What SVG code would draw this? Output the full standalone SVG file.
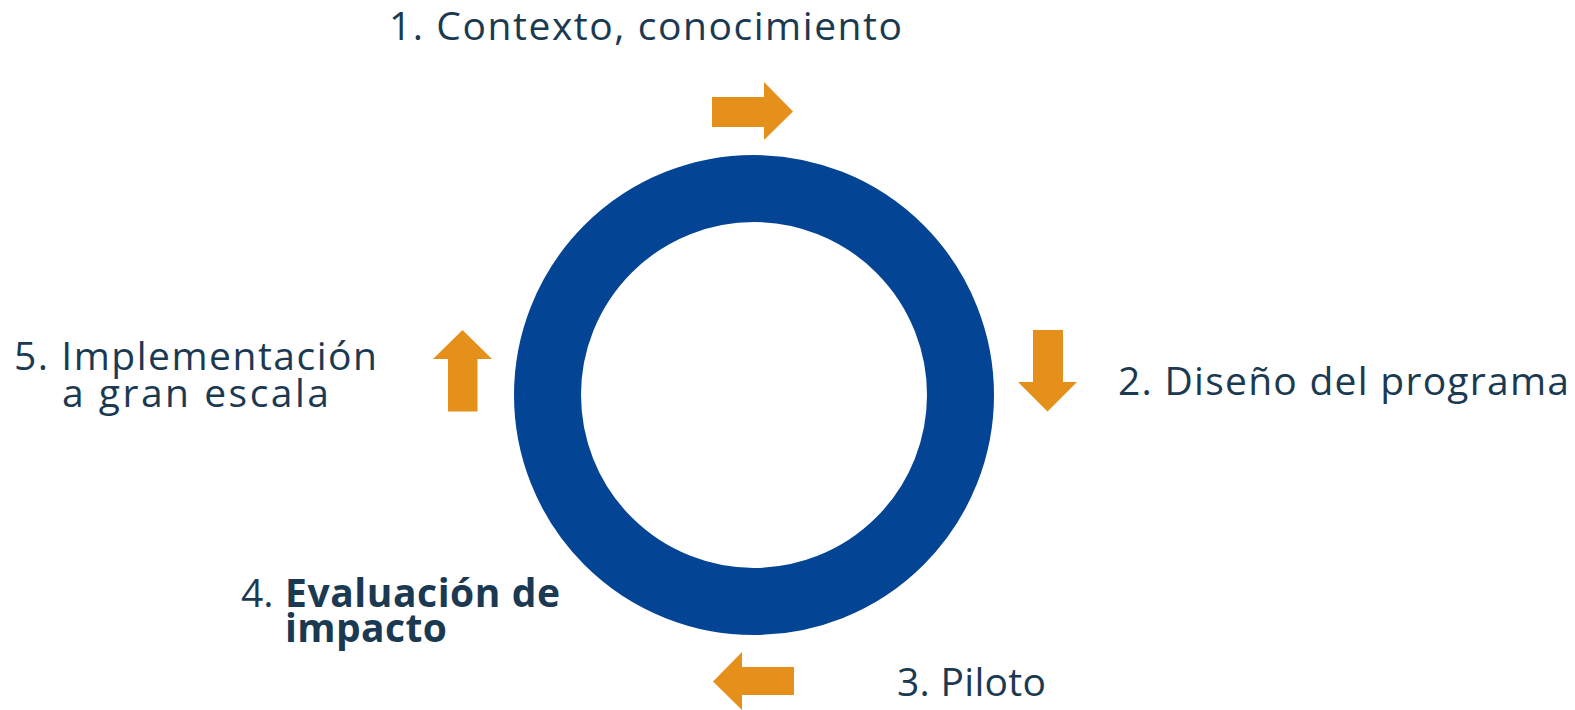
<svg xmlns="http://www.w3.org/2000/svg" width="1575" height="710" viewBox="0 0 1575 710">
<style>
.lbl{font-family:"Open Sans","Liberation Sans",sans-serif;font-size:39px;fill:#1B3A52;}
.b{font-weight:bold;}
.arr{fill:#E5901B;}
</style>
<rect width="1575" height="710" fill="#ffffff"/>
<g id="cycle">
<circle cx="754" cy="395" r="206.5" fill="none" stroke="#044494" stroke-width="67"/>
</g>
<g id="connectors">
<polygon class="arr" points="712,97 764,97 764,82 793,111.5 764,140 764,127 712,127"/>
<polygon class="arr" points="1033,330 1063,330 1063,382 1077,382 1047.5,411.5 1018,382 1033,382"/>
<polygon class="arr" points="794,667 742,667 742,652 713,681.5 742,710 742,695 794,695"/>
<polygon class="arr" points="448,411.5 448,359 433,359 462.5,330 492,359 477.5,359 477.5,411.5"/>
</g>
<g id="n1"><text class="lbl" x="389" y="40" textLength="513">1. Contexto, conocimiento</text></g>
<g id="n2"><text class="lbl" x="1118" y="395" textLength="451">2. Diseño del programa</text></g>
<g id="n3"><text class="lbl" x="897" y="696" textLength="149">3. Piloto</text></g>
<g id="n4"><text class="lbl" x="241" y="607">4.</text><text class="lbl b" x="285" y="607" textLength="275">Evaluación de</text><text class="lbl b" x="285" y="642" textLength="162">impacto</text></g>
<g id="n5"><text class="lbl" x="14" y="370" textLength="363">5. Implementación</text><text class="lbl" x="62" y="407" textLength="267">a gran escala</text></g>
</svg>
